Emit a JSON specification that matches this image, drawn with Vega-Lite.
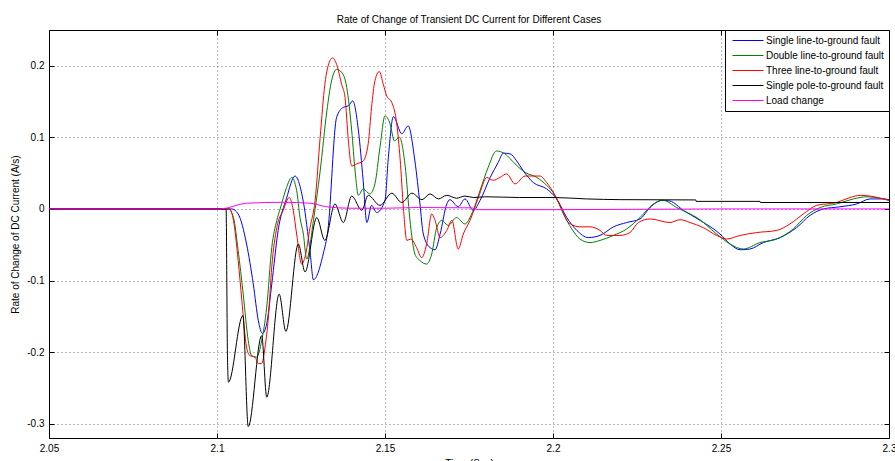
{
  "$schema": "https://vega.github.io/schema/vega-lite/v6.json",
  "width": 840,
  "height": 408,
  "autosize": {"type": "none"},
  "padding": {"left": 49, "top": 30, "right": 6, "bottom": 23},
  "background": "white",
  "title": {"text": "Rate of Change of Transient DC Current for Different Cases", "fontSize": 10, "font": "Liberation Sans", "fontWeight": "normal", "color": "#000", "offset": 5, "anchor": "middle"},
  "config": {"view": {"stroke": "#000", "strokeWidth": 1}, "font": "Liberation Sans"},
  "datasets": {
    "d": [
      {"s":"Single line-to-ground fault","t":2.05,"v":0},{"s":"Single line-to-ground fault","t":2.1,"v":0},{"s":"Single line-to-ground fault","t":2.1044,"v":0},{"s":"Single line-to-ground fault","t":2.1063,"v":-0.007},{"s":"Single line-to-ground fault","t":2.1088,"v":-0.049},{"s":"Single line-to-ground fault","t":2.1108,"v":-0.105},{"s":"Single line-to-ground fault","t":2.1123,"v":-0.156},{"s":"Single line-to-ground fault","t":2.1135,"v":-0.174},{"s":"Single line-to-ground fault","t":2.1148,"v":-0.16},{"s":"Single line-to-ground fault","t":2.1163,"v":-0.105},{"s":"Single line-to-ground fault","t":2.1182,"v":-0.03},{"s":"Single line-to-ground fault","t":2.1207,"v":0.015},{"s":"Single line-to-ground fault","t":2.1232,"v":0.046},{"s":"Single line-to-ground fault","t":2.1257,"v":0.01},{"s":"Single line-to-ground fault","t":2.1277,"v":-0.06},{"s":"Single line-to-ground fault","t":2.1287,"v":-0.099},{"s":"Single line-to-ground fault","t":2.1316,"v":-0.063},{"s":"Single line-to-ground fault","t":2.133,"v":-0.03},{"s":"Single line-to-ground fault","t":2.1356,"v":0.128},{"s":"Single line-to-ground fault","t":2.1376,"v":0.142},{"s":"Single line-to-ground fault","t":2.1391,"v":0.144},{"s":"Single line-to-ground fault","t":2.1404,"v":0.151},{"s":"Single line-to-ground fault","t":2.1421,"v":0.109},{"s":"Single line-to-ground fault","t":2.1435,"v":0.04},{"s":"Single line-to-ground fault","t":2.1446,"v":-0.019},{"s":"Single line-to-ground fault","t":2.146,"v":0.005},{"s":"Single line-to-ground fault","t":2.1475,"v":-0.005},{"s":"Single line-to-ground fault","t":2.15,"v":0.012},{"s":"Single line-to-ground fault","t":2.151,"v":0.072},{"s":"Single line-to-ground fault","t":2.1525,"v":0.129},{"s":"Single line-to-ground fault","t":2.155,"v":0.105},{"s":"Single line-to-ground fault","t":2.1569,"v":0.116},{"s":"Single line-to-ground fault","t":2.1589,"v":0.067},{"s":"Single line-to-ground fault","t":2.1604,"v":0.007},{"s":"Single line-to-ground fault","t":2.1614,"v":-0.035},{"s":"Single line-to-ground fault","t":2.1634,"v":-0.054},{"s":"Single line-to-ground fault","t":2.1649,"v":-0.057},{"s":"Single line-to-ground fault","t":2.1664,"v":-0.035},{"s":"Single line-to-ground fault","t":2.1684,"v":0.007},{"s":"Single line-to-ground fault","t":2.1693,"v":0.013},{"s":"Single line-to-ground fault","t":2.1718,"v":0.003},{"s":"Single line-to-ground fault","t":2.1738,"v":0.014},{"s":"Single line-to-ground fault","t":2.1763,"v":-0.002},{"s":"Single line-to-ground fault","t":2.1783,"v":0.012},{"s":"Single line-to-ground fault","t":2.1813,"v":0.044},{"s":"Single line-to-ground fault","t":2.1837,"v":0.065},{"s":"Single line-to-ground fault","t":2.1852,"v":0.078},{"s":"Single line-to-ground fault","t":2.1872,"v":0.077},{"s":"Single line-to-ground fault","t":2.1892,"v":0.067},{"s":"Single line-to-ground fault","t":2.1912,"v":0.053},{"s":"Single line-to-ground fault","t":2.1941,"v":0.037},{"s":"Single line-to-ground fault","t":2.1981,"v":0.028},{"s":"Single line-to-ground fault","t":2.2011,"v":0.014},{"s":"Single line-to-ground fault","t":2.2041,"v":-0.012},{"s":"Single line-to-ground fault","t":2.2071,"v":-0.03},{"s":"Single line-to-ground fault","t":2.2105,"v":-0.04},{"s":"Single line-to-ground fault","t":2.214,"v":-0.037},{"s":"Single line-to-ground fault","t":2.218,"v":-0.025},{"s":"Single line-to-ground fault","t":2.2219,"v":-0.019},{"s":"Single line-to-ground fault","t":2.2259,"v":-0.014},{"s":"Single line-to-ground fault","t":2.2289,"v":0.002},{"s":"Single line-to-ground fault","t":2.2324,"v":0.012},{"s":"Single line-to-ground fault","t":2.2348,"v":0.011},{"s":"Single line-to-ground fault","t":2.2388,"v":-0.002},{"s":"Single line-to-ground fault","t":2.2438,"v":-0.016},{"s":"Single line-to-ground fault","t":2.2497,"v":-0.035},{"s":"Single line-to-ground fault","t":2.2527,"v":-0.049},{"s":"Single line-to-ground fault","t":2.2557,"v":-0.057},{"s":"Single line-to-ground fault","t":2.2586,"v":-0.056},{"s":"Single line-to-ground fault","t":2.2626,"v":-0.047},{"s":"Single line-to-ground fault","t":2.2676,"v":-0.04},{"s":"Single line-to-ground fault","t":2.2725,"v":-0.026},{"s":"Single line-to-ground fault","t":2.2765,"v":-0.009},{"s":"Single line-to-ground fault","t":2.2805,"v":0},{"s":"Single line-to-ground fault","t":2.2854,"v":0.003},{"s":"Single line-to-ground fault","t":2.2904,"v":0.007},{"s":"Single line-to-ground fault","t":2.2944,"v":0.014},{"s":"Single line-to-ground fault","t":2.2983,"v":0.014},{"s":"Single line-to-ground fault","t":2.3,"v":0.013},

      {"s":"Double line-to-ground fault","t":2.05,"v":0},{"s":"Double line-to-ground fault","t":2.1,"v":0},{"s":"Double line-to-ground fault","t":2.1034,"v":0},{"s":"Double line-to-ground fault","t":2.1049,"v":-0.012},{"s":"Double line-to-ground fault","t":2.1063,"v":-0.058},{"s":"Double line-to-ground fault","t":2.1078,"v":-0.119},{"s":"Double line-to-ground fault","t":2.1093,"v":-0.184},{"s":"Double line-to-ground fault","t":2.1103,"v":-0.205},{"s":"Double line-to-ground fault","t":2.1118,"v":-0.207},{"s":"Double line-to-ground fault","t":2.1133,"v":-0.184},{"s":"Double line-to-ground fault","t":2.1148,"v":-0.137},{"s":"Double line-to-ground fault","t":2.1163,"v":-0.054},{"s":"Double line-to-ground fault","t":2.1178,"v":-0.016},{"s":"Double line-to-ground fault","t":2.1188,"v":0.0},{"s":"Double line-to-ground fault","t":2.1207,"v":0.03},{"s":"Double line-to-ground fault","t":2.1222,"v":0.044},{"s":"Double line-to-ground fault","t":2.1237,"v":0.026},{"s":"Double line-to-ground fault","t":2.1247,"v":-0.012},{"s":"Double line-to-ground fault","t":2.1257,"v":-0.035},{"s":"Double line-to-ground fault","t":2.1267,"v":-0.07},{"s":"Double line-to-ground fault","t":2.1287,"v":-0.016},{"s":"Double line-to-ground fault","t":2.1307,"v":0.053},{"s":"Double line-to-ground fault","t":2.1327,"v":0.137},{"s":"Double line-to-ground fault","t":2.1341,"v":0.179},{"s":"Double line-to-ground fault","t":2.1356,"v":0.195},{"s":"Double line-to-ground fault","t":2.1371,"v":0.191},{"s":"Double line-to-ground fault","t":2.1386,"v":0.17},{"s":"Double line-to-ground fault","t":2.1401,"v":0.109},{"s":"Double line-to-ground fault","t":2.1411,"v":0.053},{"s":"Double line-to-ground fault","t":2.1421,"v":0.019},{"s":"Double line-to-ground fault","t":2.1435,"v":0.028},{"s":"Double line-to-ground fault","t":2.1455,"v":0.021},{"s":"Double line-to-ground fault","t":2.147,"v":0.035},{"s":"Double line-to-ground fault","t":2.1485,"v":0.086},{"s":"Double line-to-ground fault","t":2.15,"v":0.13},{"s":"Double line-to-ground fault","t":2.1515,"v":0.119},{"s":"Double line-to-ground fault","t":2.1528,"v":0.095},{"s":"Double line-to-ground fault","t":2.1543,"v":0.1},{"s":"Double line-to-ground fault","t":2.156,"v":0.06},{"s":"Double line-to-ground fault","t":2.1574,"v":-0.014},{"s":"Double line-to-ground fault","t":2.1589,"v":-0.063},{"s":"Double line-to-ground fault","t":2.1604,"v":-0.072},{"s":"Double line-to-ground fault","t":2.1624,"v":-0.077},{"s":"Double line-to-ground fault","t":2.1639,"v":-0.063},{"s":"Double line-to-ground fault","t":2.1654,"v":-0.026},{"s":"Double line-to-ground fault","t":2.1669,"v":-0.016},{"s":"Double line-to-ground fault","t":2.1688,"v":-0.023},{"s":"Double line-to-ground fault","t":2.1713,"v":-0.012},{"s":"Double line-to-ground fault","t":2.1738,"v":-0.021},{"s":"Double line-to-ground fault","t":2.1758,"v":-0.007},{"s":"Double line-to-ground fault","t":2.1783,"v":0.026},{"s":"Double line-to-ground fault","t":2.1807,"v":0.058},{"s":"Double line-to-ground fault","t":2.1832,"v":0.081},{"s":"Double line-to-ground fault","t":2.1857,"v":0.077},{"s":"Double line-to-ground fault","t":2.1887,"v":0.063},{"s":"Double line-to-ground fault","t":2.1917,"v":0.051},{"s":"Double line-to-ground fault","t":2.1952,"v":0.044},{"s":"Double line-to-ground fault","t":2.1981,"v":0.033},{"s":"Double line-to-ground fault","t":2.2006,"v":0.019},{"s":"Double line-to-ground fault","t":2.2031,"v":-0.007},{"s":"Double line-to-ground fault","t":2.2056,"v":-0.028},{"s":"Double line-to-ground fault","t":2.208,"v":-0.042},{"s":"Double line-to-ground fault","t":2.211,"v":-0.047},{"s":"Double line-to-ground fault","t":2.214,"v":-0.044},{"s":"Double line-to-ground fault","t":2.218,"v":-0.037},{"s":"Double line-to-ground fault","t":2.2219,"v":-0.028},{"s":"Double line-to-ground fault","t":2.2259,"v":-0.012},{"s":"Double line-to-ground fault","t":2.2299,"v":0.007},{"s":"Double line-to-ground fault","t":2.2328,"v":0.012},{"s":"Double line-to-ground fault","t":2.2368,"v":0.002},{"s":"Double line-to-ground fault","t":2.2408,"v":-0.007},{"s":"Double line-to-ground fault","t":2.2428,"v":-0.012},{"s":"Double line-to-ground fault","t":2.2487,"v":-0.035},{"s":"Double line-to-ground fault","t":2.2527,"v":-0.049},{"s":"Double line-to-ground fault","t":2.2566,"v":-0.056},{"s":"Double line-to-ground fault","t":2.2616,"v":-0.047},{"s":"Double line-to-ground fault","t":2.2666,"v":-0.042},{"s":"Double line-to-ground fault","t":2.2715,"v":-0.028},{"s":"Double line-to-ground fault","t":2.2755,"v":-0.009},{"s":"Double line-to-ground fault","t":2.2795,"v":0.002},{"s":"Double line-to-ground fault","t":2.2844,"v":0.007},{"s":"Double line-to-ground fault","t":2.2894,"v":0.014},{"s":"Double line-to-ground fault","t":2.2934,"v":0.017},{"s":"Double line-to-ground fault","t":2.2973,"v":0.015},{"s":"Double line-to-ground fault","t":2.3,"v":0.012},

      {"s":"Three line-to-ground fault","t":2.05,"v":0},{"s":"Three line-to-ground fault","t":2.1,"v":0},{"s":"Three line-to-ground fault","t":2.1037,"v":0},{"s":"Three line-to-ground fault","t":2.1049,"v":-0.016},{"s":"Three line-to-ground fault","t":2.1063,"v":-0.072},{"s":"Three line-to-ground fault","t":2.1074,"v":-0.128},{"s":"Three line-to-ground fault","t":2.1088,"v":-0.193},{"s":"Three line-to-ground fault","t":2.1098,"v":-0.205},{"s":"Three line-to-ground fault","t":2.1113,"v":-0.207},{"s":"Three line-to-ground fault","t":2.1123,"v":-0.216},{"s":"Three line-to-ground fault","t":2.1133,"v":-0.216},{"s":"Three line-to-ground fault","t":2.1143,"v":-0.193},{"s":"Three line-to-ground fault","t":2.1153,"v":-0.151},{"s":"Three line-to-ground fault","t":2.1163,"v":-0.081},{"s":"Three line-to-ground fault","t":2.1178,"v":-0.026},{"s":"Three line-to-ground fault","t":2.1197,"v":-0.002},{"s":"Three line-to-ground fault","t":2.1215,"v":0.016},{"s":"Three line-to-ground fault","t":2.1227,"v":-0.002},{"s":"Three line-to-ground fault","t":2.1237,"v":-0.035},{"s":"Three line-to-ground fault","t":2.1252,"v":-0.077},{"s":"Three line-to-ground fault","t":2.1262,"v":-0.067},{"s":"Three line-to-ground fault","t":2.1277,"v":-0.026},{"s":"Three line-to-ground fault","t":2.1292,"v":0.012},{"s":"Three line-to-ground fault","t":2.1307,"v":0.1},{"s":"Three line-to-ground fault","t":2.1321,"v":0.174},{"s":"Three line-to-ground fault","t":2.1336,"v":0.207},{"s":"Three line-to-ground fault","t":2.1344,"v":0.211},{"s":"Three line-to-ground fault","t":2.1356,"v":0.202},{"s":"Three line-to-ground fault","t":2.1371,"v":0.174},{"s":"Three line-to-ground fault","t":2.1381,"v":0.156},{"s":"Three line-to-ground fault","t":2.1391,"v":0.095},{"s":"Three line-to-ground fault","t":2.1401,"v":0.06},{"s":"Three line-to-ground fault","t":2.1416,"v":0.063},{"s":"Three line-to-ground fault","t":2.1435,"v":0.067},{"s":"Three line-to-ground fault","t":2.145,"v":0.091},{"s":"Three line-to-ground fault","t":2.146,"v":0.142},{"s":"Three line-to-ground fault","t":2.147,"v":0.179},{"s":"Three line-to-ground fault","t":2.1483,"v":0.192},{"s":"Three line-to-ground fault","t":2.1495,"v":0.174},{"s":"Three line-to-ground fault","t":2.1505,"v":0.158},{"s":"Three line-to-ground fault","t":2.152,"v":0.149},{"s":"Three line-to-ground fault","t":2.1535,"v":0.119},{"s":"Three line-to-ground fault","t":2.1545,"v":0.07},{"s":"Three line-to-ground fault","t":2.1555,"v":0.0},{"s":"Three line-to-ground fault","t":2.1565,"v":-0.044},{"s":"Three line-to-ground fault","t":2.1577,"v":-0.042},{"s":"Three line-to-ground fault","t":2.1594,"v":-0.054},{"s":"Three line-to-ground fault","t":2.1609,"v":-0.068},{"s":"Three line-to-ground fault","t":2.1624,"v":-0.049},{"s":"Three line-to-ground fault","t":2.1639,"v":-0.007},{"s":"Three line-to-ground fault","t":2.1649,"v":-0.016},{"s":"Three line-to-ground fault","t":2.1664,"v":-0.04},{"s":"Three line-to-ground fault","t":2.1684,"v":-0.03},{"s":"Three line-to-ground fault","t":2.1699,"v":-0.016},{"s":"Three line-to-ground fault","t":2.1718,"v":-0.056},{"s":"Three line-to-ground fault","t":2.1733,"v":-0.035},{"s":"Three line-to-ground fault","t":2.1753,"v":-0.016},{"s":"Three line-to-ground fault","t":2.1778,"v":0.016},{"s":"Three line-to-ground fault","t":2.1803,"v":0.044},{"s":"Three line-to-ground fault","t":2.1822,"v":0.04},{"s":"Three line-to-ground fault","t":2.1842,"v":0.044},{"s":"Three line-to-ground fault","t":2.1862,"v":0.049},{"s":"Three line-to-ground fault","t":2.1887,"v":0.035},{"s":"Three line-to-ground fault","t":2.1917,"v":0.046},{"s":"Three line-to-ground fault","t":2.1937,"v":0.046},{"s":"Three line-to-ground fault","t":2.1961,"v":0.046},{"s":"Three line-to-ground fault","t":2.1981,"v":0.037},{"s":"Three line-to-ground fault","t":2.2006,"v":0.019},{"s":"Three line-to-ground fault","t":2.2026,"v":0},{"s":"Three line-to-ground fault","t":2.2046,"v":-0.019},{"s":"Three line-to-ground fault","t":2.208,"v":-0.025},{"s":"Three line-to-ground fault","t":2.211,"v":-0.025},{"s":"Three line-to-ground fault","t":2.214,"v":-0.03},{"s":"Three line-to-ground fault","t":2.216,"v":-0.037},{"s":"Three line-to-ground fault","t":2.2199,"v":-0.037},{"s":"Three line-to-ground fault","t":2.2229,"v":-0.033},{"s":"Three line-to-ground fault","t":2.2254,"v":-0.019},{"s":"Three line-to-ground fault","t":2.2289,"v":-0.014},{"s":"Three line-to-ground fault","t":2.2348,"v":-0.019},{"s":"Three line-to-ground fault","t":2.2378,"v":-0.015},{"s":"Three line-to-ground fault","t":2.2408,"v":-0.019},{"s":"Three line-to-ground fault","t":2.2447,"v":-0.026},{"s":"Three line-to-ground fault","t":2.2487,"v":-0.037},{"s":"Three line-to-ground fault","t":2.2517,"v":-0.042},{"s":"Three line-to-ground fault","t":2.2557,"v":-0.037},{"s":"Three line-to-ground fault","t":2.2606,"v":-0.033},{"s":"Three line-to-ground fault","t":2.2666,"v":-0.03},{"s":"Three line-to-ground fault","t":2.2705,"v":-0.021},{"s":"Three line-to-ground fault","t":2.2745,"v":-0.007},{"s":"Three line-to-ground fault","t":2.2785,"v":0.005},{"s":"Three line-to-ground fault","t":2.2844,"v":0.009},{"s":"Three line-to-ground fault","t":2.2884,"v":0.016},{"s":"Three line-to-ground fault","t":2.2914,"v":0.019},{"s":"Three line-to-ground fault","t":2.2944,"v":0.018},{"s":"Three line-to-ground fault","t":2.2983,"v":0.014},{"s":"Three line-to-ground fault","t":2.3,"v":0.012},

      {"s":"Single pole-to-ground fault","t":2.05,"v":0},{"s":"Single pole-to-ground fault","t":2.1,"v":0},{"s":"Single pole-to-ground fault","t":2.1027,"v":0},{"s":"Single pole-to-ground fault","t":2.1031,"v":-0.2},{"s":"Single pole-to-ground fault","t":2.1034,"v":-0.242},{"s":"Single pole-to-ground fault","t":2.1077,"v":-0.149},{"s":"Single pole-to-ground fault","t":2.1093,"v":-0.304},{"s":"Single pole-to-ground fault","t":2.1133,"v":-0.177},{"s":"Single pole-to-ground fault","t":2.1148,"v":-0.263},{"s":"Single pole-to-ground fault","t":2.1185,"v":-0.119},{"s":"Single pole-to-ground fault","t":2.1205,"v":-0.171},{"s":"Single pole-to-ground fault","t":2.1242,"v":-0.049},{"s":"Single pole-to-ground fault","t":2.1262,"v":-0.088},{"s":"Single pole-to-ground fault","t":2.1297,"v":-0.012},{"s":"Single pole-to-ground fault","t":2.1321,"v":-0.044},{"s":"Single pole-to-ground fault","t":2.1351,"v":0.007},{"s":"Single pole-to-ground fault","t":2.1376,"v":-0.019},{"s":"Single pole-to-ground fault","t":2.1401,"v":0.018},{"s":"Single pole-to-ground fault","t":2.1431,"v":-0.002},{"s":"Single pole-to-ground fault","t":2.145,"v":0.019},{"s":"Single pole-to-ground fault","t":2.1485,"v":0.005},{"s":"Single pole-to-ground fault","t":2.152,"v":0.022},{"s":"Single pole-to-ground fault","t":2.155,"v":0.009},{"s":"Single pole-to-ground fault","t":2.158,"v":0.022},{"s":"Single pole-to-ground fault","t":2.161,"v":0.013},{"s":"Single pole-to-ground fault","t":2.1634,"v":0.021},{"s":"Single pole-to-ground fault","t":2.1659,"v":0.014},{"s":"Single pole-to-ground fault","t":2.1684,"v":0.019},{"s":"Single pole-to-ground fault","t":2.1713,"v":0.015},{"s":"Single pole-to-ground fault","t":2.1738,"v":0.018},{"s":"Single pole-to-ground fault","t":2.1763,"v":0.016},{"s":"Single pole-to-ground fault","t":2.18,"v":0.017},{"s":"Single pole-to-ground fault","t":2.19,"v":0.016},{"s":"Single pole-to-ground fault","t":2.2,"v":0.016},{"s":"Single pole-to-ground fault","t":2.21,"v":0.014},{"s":"Single pole-to-ground fault","t":2.22,"v":0.013},{"s":"Single pole-to-ground fault","t":2.2425,"v":0.0126},{"s":"Single pole-to-ground fault","t":2.2426,"v":0.0106},{"s":"Single pole-to-ground fault","t":2.2616,"v":0.0106},{"s":"Single pole-to-ground fault","t":2.2617,"v":0.009},{"s":"Single pole-to-ground fault","t":2.3,"v":0.009},

      {"s":"Load change","t":2.05,"v":0},{"s":"Load change","t":2.1,"v":0},{"s":"Load change","t":2.1009,"v":0},{"s":"Load change","t":2.1088,"v":0.008},{"s":"Load change","t":2.1196,"v":0.0093},{"s":"Load change","t":2.1277,"v":0.008},{"s":"Load change","t":2.1327,"v":0.003},{"s":"Load change","t":2.1396,"v":0.001},{"s":"Load change","t":2.15,"v":0.001},{"s":"Load change","t":2.16,"v":0.002},{"s":"Load change","t":2.1757,"v":0.0015},{"s":"Load change","t":2.1778,"v":-0.001},{"s":"Load change","t":2.2,"v":-0.001},{"s":"Load change","t":2.25,"v":0},{"s":"Load change","t":2.3,"v":0}
    ]
  },
  "data": {"name": "d"},
  "layer": [
    {
      "mark": {"type": "line", "strokeWidth": 1, "interpolate": "monotone", "clip": true},
      "encoding": {
        "x": {"field": "t", "type": "quantitative", "scale": {"domain": [2.05, 2.3], "nice": false, "zero": false},
          "axis": {"values": [2.05, 2.1, 2.15, 2.2, 2.25, 2.3], "labelExpr": "format(datum.value,'~g')", "grid": true, "gridDash": [1, 3], "gridColor": "#000", "gridOpacity": 0.55, "domain": false, "tickSize": -5, "tickColor": "#000", "labelFontSize": 10, "labelColor": "#000", "labelFont": "Liberation Sans", "labelPadding": 10, "labelFlush": false, "labelOverlap": false, "title": "Time (Sec)", "titleFontSize": 10, "titleFont": "Liberation Sans", "titleFontWeight": "normal", "titleColor": "#000", "titlePadding": 5}},
        "y": {"field": "v", "type": "quantitative", "scale": {"domain": [-0.32, 0.25], "nice": false, "zero": false},
          "axis": {"values": [-0.3, -0.2, -0.1, 0, 0.1, 0.2], "labelExpr": "replace(format(datum.value,'~g'),'\u2212','-')", "grid": true, "gridDash": [1, 3], "gridColor": "#000", "gridOpacity": 0.55, "domain": false, "tickSize": -5, "tickColor": "#000", "labelFontSize": 10, "labelColor": "#000", "labelFont": "Liberation Sans", "labelPadding": 10, "labelOverlap": false, "title": "Rate of Change of DC Current (A/s)", "titleFontSize": 10, "titleFont": "Liberation Sans", "titleFontWeight": "normal", "titleColor": "#000", "titlePadding": 6}},
        "color": {"field": "s", "type": "nominal",
          "scale": {"domain": ["Single line-to-ground fault", "Double line-to-ground fault", "Three line-to-ground fault", "Single pole-to-ground fault", "Load change"], "range": ["#0000ff", "#008000", "#ff0000", "#000000", "#ff00ff"]},
          "legend": {"title": null, "orient": "top-right", "offset": 0, "fillColor": "#fff", "strokeColor": "#000", "padding": 5, "symbolType": "M-0.6,0H5.6", "symbolSize": 100, "symbolStrokeWidth": 1, "labelFontSize": 10, "labelFont": "Liberation Sans", "labelColor": "#000", "labelOffset": 25, "rowPadding": 4, "cornerRadius": 0, "labelLimit": 300}}
      }
    },
    {
      "mark": {"type": "line", "opacity": 0},
      "encoding": {
        "x": {"field": "t", "type": "quantitative", "axis": {"orient": "top", "values": [2.05, 2.1, 2.15, 2.2, 2.25, 2.3], "labels": false, "grid": false, "domain": false, "tickSize": -5, "tickColor": "#000", "title": null}},
        "y": {"field": "v", "type": "quantitative", "axis": {"orient": "right", "values": [-0.3, -0.2, -0.1, 0, 0.1, 0.2], "labels": false, "grid": false, "domain": false, "tickSize": -5, "tickColor": "#000", "title": null}},
        "detail": {"field": "s"}
      }
    }
  ],
  "resolve": {"axis": {"x": "independent", "y": "independent"}}
}
